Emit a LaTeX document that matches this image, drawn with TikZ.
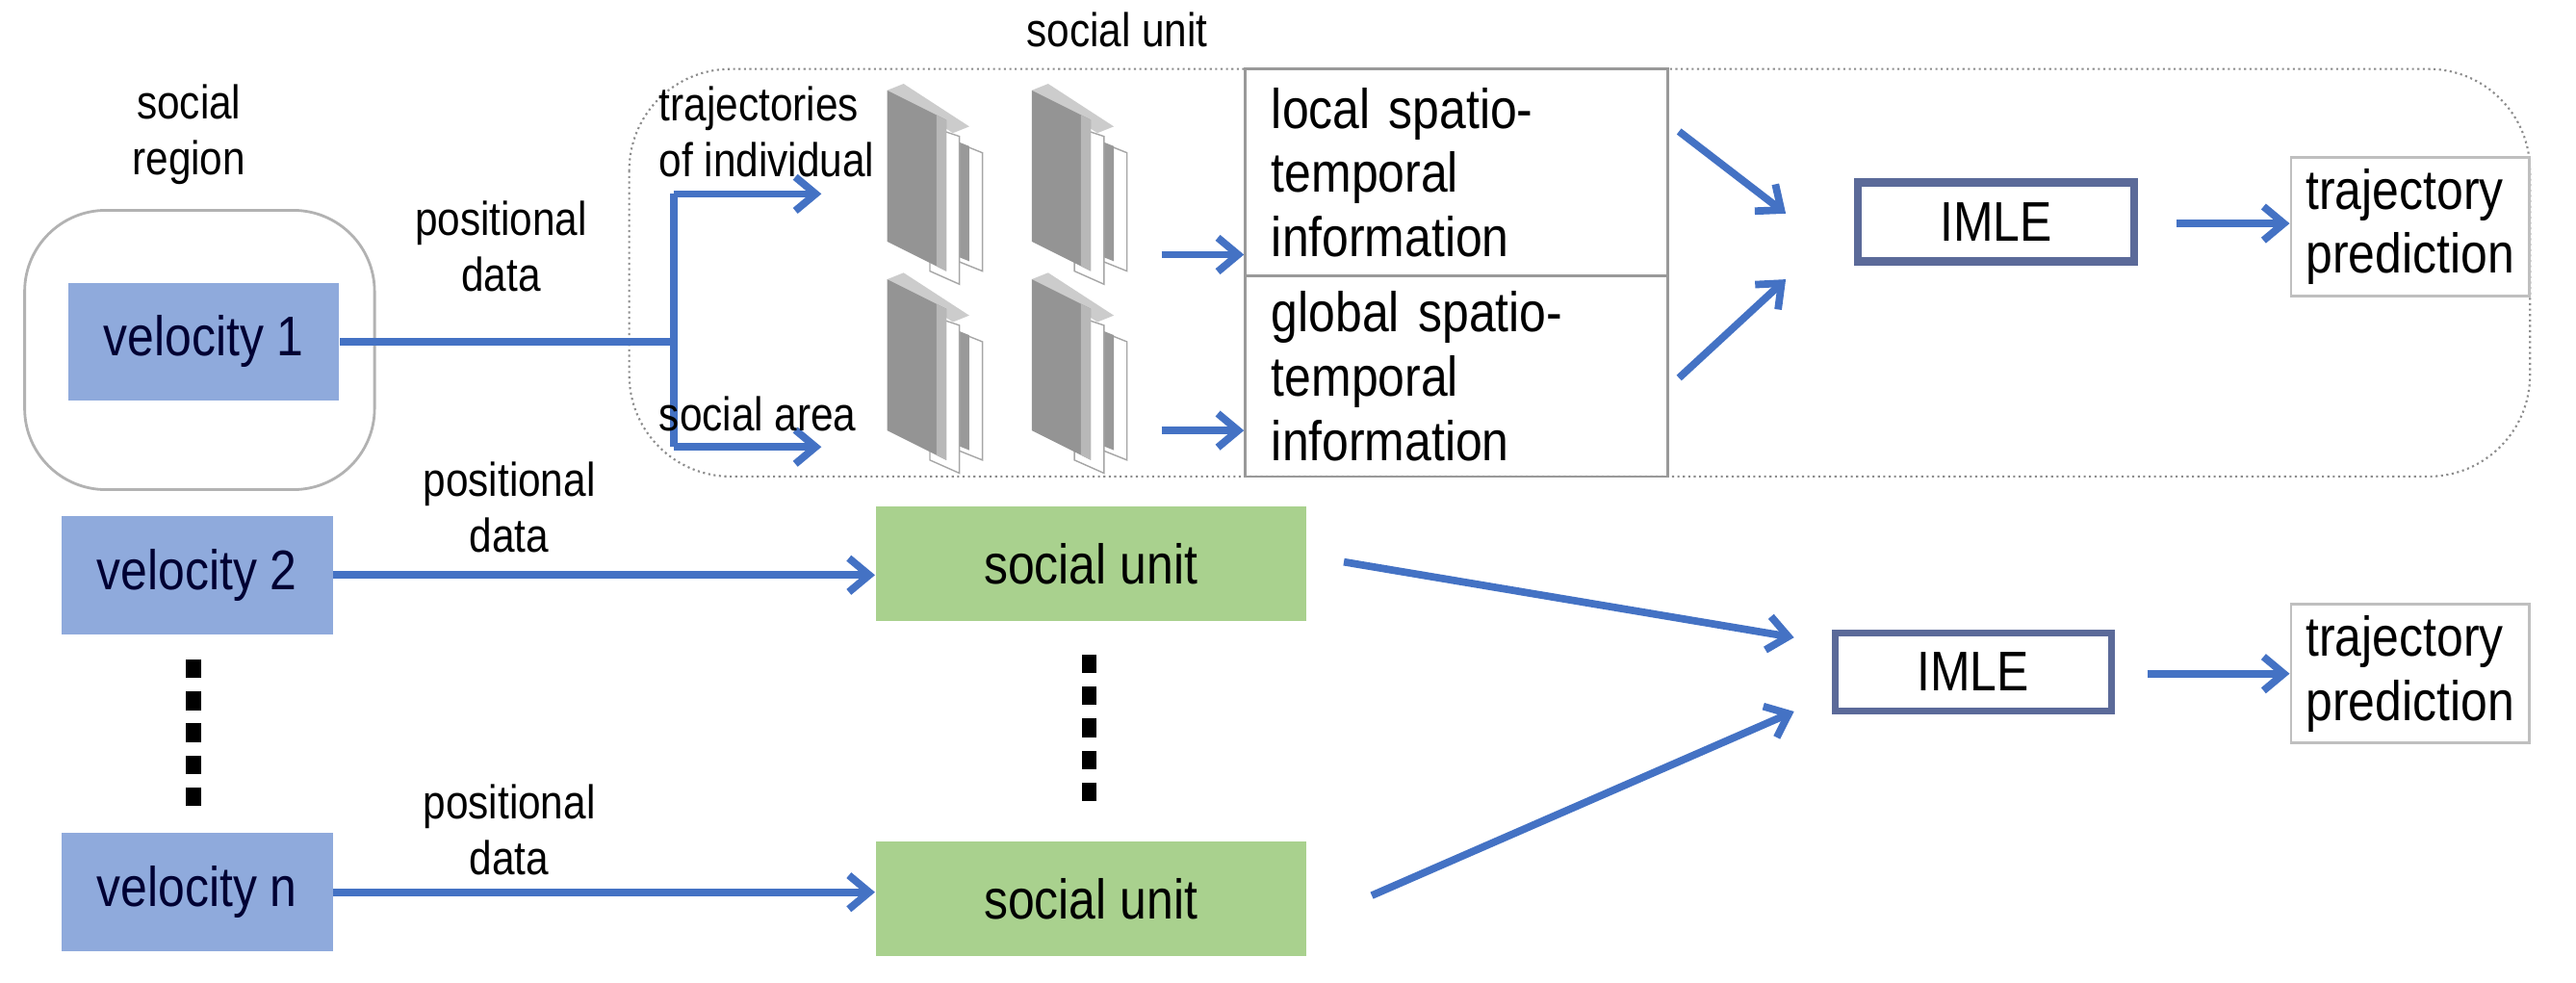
\documentclass[tikz,border=0pt]{standalone}
\usepackage{fontspec}
\setmainfont{Liberation Sans}[FakeStretch=0.86]
\usetikzlibrary{arrows.meta}
\definecolor{vblue}{HTML}{8FAADC}
\definecolor{sgreen}{HTML}{A9D18E}
\definecolor{ablue}{HTML}{4472C4}
\definecolor{iblue}{HTML}{5B6A99}
\newcommand{\uu}{0.017066cm}
\begin{document}
\begin{tikzpicture}[x=\uu,y=-\uu,
  lbl/.style={font=\fontsize{16.5}{19}\selectfont,align=left},
  sml/.style={font=\fontsize{14}{16.5}\selectfont,align=center},
  vel/.style={draw=none,fill=vblue,minimum width=165*\uu,minimum height=72*\uu,font=\fontsize{16.5}{19}\selectfont,text=black!80!blue},
  su/.style={draw=none,fill=sgreen,minimum width=262*\uu,minimum height=70*\uu,font=\fontsize{16.5}{19}\selectfont},
  imle/.style={draw=iblue,line width=2.4pt,minimum width=168*\uu,minimum height=48*\uu,font=\fontsize{16.5}{19}\selectfont},
  tp/.style={draw=black!25,line width=0.8pt,minimum width=145*\uu,minimum height=78*\uu,font=\fontsize{16.5}{19}\selectfont,align=left},
  arr/.style={draw=ablue,line width=2.2pt,-{Straight Barb[length=6pt,width=10pt]}},
  dot/.style={fill=black,minimum width=4.5pt,minimum height=5.5pt,inner sep=0pt}]
\useasboundingbox (0,0) rectangle (1568,598);
% social unit container
\draw[black!45,densely dotted,line width=0.6pt,rounded corners=30pt] (383,42) rectangle (1540,290);
\node[sml] (sutitle) at (680,18) {social unit};
% social region
\draw[black!30,line width=0.8pt,rounded corners=24pt] (15,128) rectangle (228,298);
\node[sml] (srtitle) at (115,82) {social\\region};
\node[vel] (v1) at (124,208) {velocity 1};
\node[sml] (pd1) at (305,150) {positional\\data};
\coordinate (br) at (410,208);
\coordinate (btop) at (410,118);
\coordinate (bbot) at (410,272);
\coordinate (t1) at (500,118);
\coordinate (t2) at (500,272);
\draw[ablue,line width=2.2pt] (v1.east) -- (br);
\draw[ablue,line width=2.2pt] (btop) -- (bbot);
\draw[arr] (btop) -- (t1);
\draw[arr] (bbot) -- (t2);
\node[sml,align=left,anchor=west] (traj) at (394,80) {trajectories\\of individual};
\node[sml,anchor=west] (sarea) at (394,252) {social area};
% layer icons
\newcommand{\lay}[2]{%
 \begin{scope}[shift={(#1,#2)}]
  \fill[black!20] (0,0) -- (10,-4) -- (50,22) -- (40,26) -- cycle;
  \fill[white,draw=black!35,line width=0.4pt] (38,30) -- (58,38) -- (58,110) -- (38,102) -- cycle;
  \fill[black!40] (30,26) -- (50,34) -- (50,104) -- (30,96) -- cycle;
  \fill[white,draw=black!35,line width=0.4pt] (26,22) -- (44,28) -- (44,118) -- (26,110) -- cycle;
  \fill[black!42] (0,0) -- (36,18) -- (36,110) -- (0,92) -- cycle;
  \fill[black!28] (30,15) -- (36,18) -- (36,110) -- (30,107) -- cycle;
 \end{scope}}
\lay{540}{55}\lay{628}{55}\lay{540}{170}\lay{628}{170}
\node[draw=black!40,line width=0.8pt,minimum width=257*\uu,minimum height=126*\uu,text width=225*\uu,lbl] (loc) at (886.5,105) {local spatio-\\temporal\\information};
\node[draw=black!40,line width=0.8pt,minimum width=257*\uu,minimum height=122*\uu,text width=225*\uu,lbl] (glo) at (886.5,229) {global spatio-\\temporal\\information};
\coordinate (l1) at (707,155);
\coordinate (l2) at (707,262);
\draw[arr] (l1) -- (loc.west|-l1);
\draw[arr] (l2) -- (glo.west|-l2);
\node[imle] (im1) at (1215,135) {IMLE};
\node[tp] (tp1) at (1467,138) {trajectory\\prediction};
\coordinate (m1) at (1087,130);
\coordinate (m2) at (1087,170);
\coordinate (o1) at (1325,136);
\draw[arr] (1022,80) -- (m1);
\draw[arr] (1022,230) -- (m2);
\draw[arr] (o1) -- (tp1.west|-o1);
% lower rows
\node[vel] (v2) at (120,350) {velocity 2};
\node[vel] (vn) at (120,543) {velocity n};
\node[su] (s2) at (664,343) {social unit};
\node[su] (sn) at (664,547) {social unit};
\node[sml] (pd2) at (310,309) {positional\\data};
\node[sml] (pdn) at (310,505) {positional\\data};
\draw[arr] (v2.east) -- (s2.west|-v2.east);
\draw[arr] (vn.east) -- (sn.west|-vn.east);
\foreach \i in {0,1,2,3,4}{
 \node[dot] (da\i) at (118,407+\i*19.5) {};
 \node[dot] (db\i) at (663,404+\i*19.5) {};}
\node[imle,line width=2pt] (im2) at (1201,409) {IMLE};
\node[tp] (tp2) at (1467,410) {trajectory\\prediction};
\coordinate (m3) at (1092,388);
\coordinate (m4) at (1092,433);
\coordinate (o2) at (1307,410);
\draw[arr] (818,342) -- (m3);
\draw[arr] (835,545) -- (m4);
\draw[arr] (o2) -- (tp2.west|-o2);
\end{tikzpicture}
\end{document}
